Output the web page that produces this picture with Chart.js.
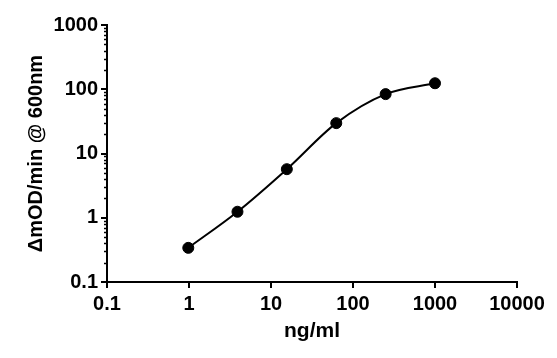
<!DOCTYPE html>
<html>
<head>
<meta charset="utf-8">
<script src="https://cdn.jsdelivr.net/npm/chart.js@4/dist/chart.umd.min.js"></script>
<style>
  html, body { margin: 0; padding: 0; background: #fff; }
  #wrap { width: 557px; height: 358px; }
</style>
</head>
<body>
<div id="wrap"><canvas id="doseChart"></canvas></div>
<script>
// concentrations (ng/ml) and response (mOD/min @ 600nm)
const concentrations = [0.98, 3.9, 15.6, 62.5, 250, 1000];
const responses = [0.34, 1.24, 5.7, 29.7, 84, 124];

const xTicks = [0.1, 1, 10, 100, 1000, 10000];
const yTicks = [0.1, 1, 10, 100, 1000];

const font = 'Liberation Sans, Arial, sans-serif';

// y axis minor ticks (2..9 per decade), shorter than the major ones
const minorTicks = {
    id: 'minorTicks',
    afterDraw(chart) {
        const y = chart.scales.y;
        const c = chart.ctx;
        c.save();
        c.strokeStyle = '#000';
        c.lineWidth = 1.5;
        for (let i = 0; i < yTicks.length - 1; i++) {
            for (let m = 2; m <= 9; m++) {
                const py = Math.round(y.getPixelForValue(yTicks[i] * m)) + 0.5;
                c.beginPath();
                c.moveTo(y.right - 3, py);
                c.lineTo(y.right, py);
                c.stroke();
            }
        }
        c.restore();
    },
};

new Chart(document.getElementById('doseChart'), {
    type: 'scatter',
    data: {
        datasets: [{
            data: concentrations.map((x, i) => ({ x, y: responses[i] })),
            showLine: true,
            cubicInterpolationMode: 'monotone',
            borderColor: '#000',
            borderWidth: 2,
            backgroundColor: '#000',
            pointRadius: 5.5,
            pointBorderWidth: 1,
            pointHoverRadius: 5.5,
        }],
    },
    options: {
        responsive: true,
        maintainAspectRatio: false,
        animation: false,
        layout: { padding: { top: 25, right: 40, left: 0, bottom: 0 } },
        plugins: {
            legend: { display: false },
            tooltip: { enabled: false },
        },
        scales: {
            x: {
                type: 'logarithmic',
                min: 0.1,
                max: 10000,
                afterBuildTicks(scale) {
                    scale.ticks = xTicks.map(v => ({ value: v, major: true }));
                },
                afterFit(scale) { scale.height = 76; },
                ticks: {
                    color: '#000',
                    font: { family: font, size: 20, weight: 'bold' },
                    padding: 4,
                    maxRotation: 0,
                    autoSkip: false,
                    callback: v => String(v),
                },
                grid: { drawOnChartArea: false, drawTicks: true, tickLength: 6, color: '#000', lineWidth: 2 },
                border: { display: true, color: '#000', width: 2 },
                title: {
                    display: true,
                    text: 'ng/ml',
                    color: '#000',
                    font: { family: font, size: 21, weight: 'bold' },
                    padding: { top: 0, bottom: 14 },
                },
            },
            y: {
                type: 'logarithmic',
                min: 0.1,
                max: 1000,
                afterBuildTicks(scale) {
                    scale.ticks = yTicks.map(v => ({ value: v, major: true }));
                },
                afterFit(scale) { scale.width = 107; },
                ticks: {
                    color: '#000',
                    font: { family: font, size: 20, weight: 'bold' },
                    padding: 3,
                    autoSkip: false,
                    callback: v => String(v),
                },
                grid: { drawOnChartArea: false, drawTicks: true, tickLength: 6, color: '#000', lineWidth: 2 },
                border: { display: true, color: '#000', width: 2 },
                title: {
                    display: true,
                    text: '\u0394mOD/min @ 600nm',
                    color: '#000',
                    font: { family: font, size: 20, weight: 'bold' },
                    padding: { top: 24, bottom: 0 },
                },
            },
        },
    },
    plugins: [minorTicks],
});
</script>
</body>
</html>
